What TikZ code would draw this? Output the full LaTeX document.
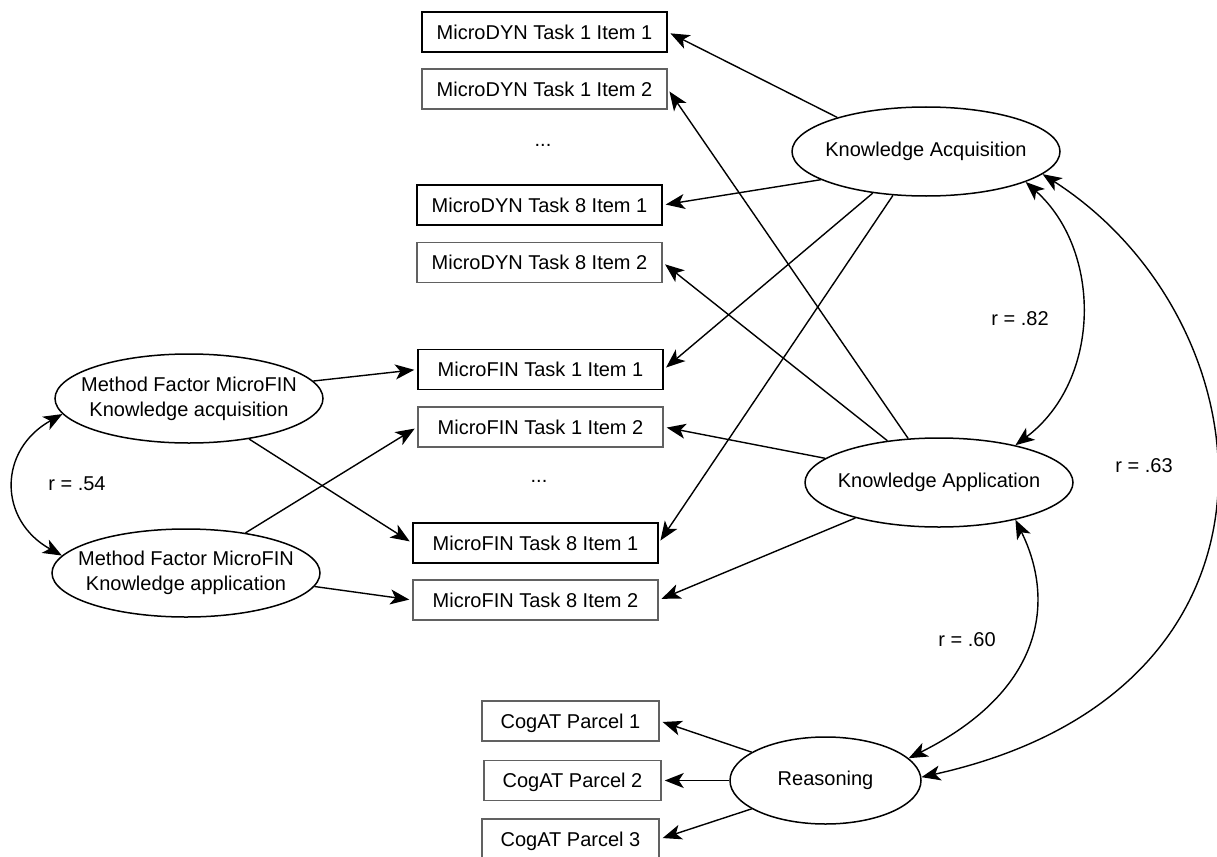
\documentclass[tikz,border=0pt]{standalone}
\usepackage{fontspec}
\setmainfont{Liberation Sans}
\usetikzlibrary{shapes.geometric,arrows.meta}
\newcommand\zbox[1]{\makebox[0pt]{#1}}
\begin{document}
\begin{tikzpicture}[x=1pt,y=-1pt,
  every node/.style={font=\fontsize{20}{25}\selectfont},
  box/.style={draw=black,line width=1.5pt,rectangle,minimum width=245pt,minimum height=40pt,inner sep=0pt,text depth=0pt},
  boxg/.style={box,draw=black!62},
  cbox/.style={boxg,minimum width=177pt},
  latent/.style={draw,ellipse,line width=1.5pt,minimum width=268pt,minimum height=89pt,inner sep=0pt},
  tip/.tip={Stealth[length=19pt,width=15pt,inset=5pt]},
  arr/.style={line width=1.4pt,-tip,shorten >=3pt},
  corr/.style={line width=1.4pt,tip-tip},
  lbl/.style={inner sep=0pt}
]
\useasboundingbox (0,0) rectangle (1217,856);

% indicator boxes
\node[box]  (d11) at (544.5,32)   {MicroDYN Task 1 Item 1};
\node[boxg] (d12) at (544.5,89)   {MicroDYN Task 1 Item 2};
\node[lbl]  (ddots) at (543,145)  {...};
\node[box]  (d81) at (539.5,205)  {MicroDYN Task 8 Item 1};
\node[boxg] (d82) at (539.5,262.5){MicroDYN Task 8 Item 2};
\node[box]  (f11) at (540.5,369.5){MicroFIN Task 1 Item 1};
\node[boxg] (f12) at (540.5,427)  {MicroFIN Task 1 Item 2};
\node[lbl]  (fdots) at (539,481)  {...};
\node[box]  (f81) at (535.5,543)  {MicroFIN Task 8 Item 1};
\node[boxg] (f82) at (535.5,600)  {MicroFIN Task 8 Item 2};
\node[cbox] (c1) at (570.5,721)   {CogAT Parcel 1};
\node[cbox] (c2) at (572.5,780.5) {CogAT Parcel 2};
\node[cbox] (c3) at (570.5,839)   {CogAT Parcel 3};

% latent variables
\node[latent] (ka)  at (926,151.5) {\zbox{Knowledge Acquisition}};
\node[latent] (kap) at (939,482.5) {\zbox{Knowledge Application}};
\node[latent,minimum width=191pt,minimum height=87pt] (rs) at (825.5,780.5) {\zbox{Reasoning}};
\node[latent] (mfa) at (189,398.5) {\zbox{\begin{tabular}{@{}c@{}}Method Factor MicroFIN\\Knowledge acquisition\end{tabular}}};
\node[latent,minimum height=88pt] (mfb) at (186,573) {\zbox{\begin{tabular}{@{}c@{}}Method Factor MicroFIN\\Knowledge application\end{tabular}}};

% correlation labels
\node[lbl] (r54) at (77,484)   {r = .54};
\node[lbl] (r82) at (1020,319) {r = .82};
\node[lbl] (r63) at (1144,466) {r = .63};
\node[lbl] (r60) at (967,640)  {r = .60};

% loadings
\draw[arr] (ka.159) -- (d11.east);
\draw[arr] (kap.125) -- (d12.east);
\draw[arr] (ka.195) -- (d81.east);
\draw[arr] (kap.141) -- (d82.east);
\draw[arr] (ka.218) -- (f11.east);
\draw[arr] (kap.168) -- (f12.east);
\draw[arr] (ka.233) -- (f81.east);
\draw[arr] (kap.203) -- (f82.east);
\draw[arr] (mfa.8) -- (f11.west);
\draw[arr] (mfa.-34) -- (f81.west);
\draw[arr] (mfb.34) -- (f12.west);
\draw[arr] (mfb.-6) -- (f82.west);
\draw[arr] (rs.159) -- (c1.east);
\draw[arr] (rs.180) -- (c2.east);
\draw[arr] (rs.201) -- (c3.east);

% correlations
\draw[corr] (mfa.187) .. controls (-2,450) and (-2,520) .. (mfb.172);
\draw[corr] (ka.-17) .. controls (1102,250) and (1102,380) .. (kap.26);
\draw[corr] (ka.-11) .. controls (1270,320) and (1314,690) .. (rs.2);
\draw[corr] (kap.-26) .. controls (1055,600) and (1045,690) .. (rs.15);
\end{tikzpicture}
\end{document}
